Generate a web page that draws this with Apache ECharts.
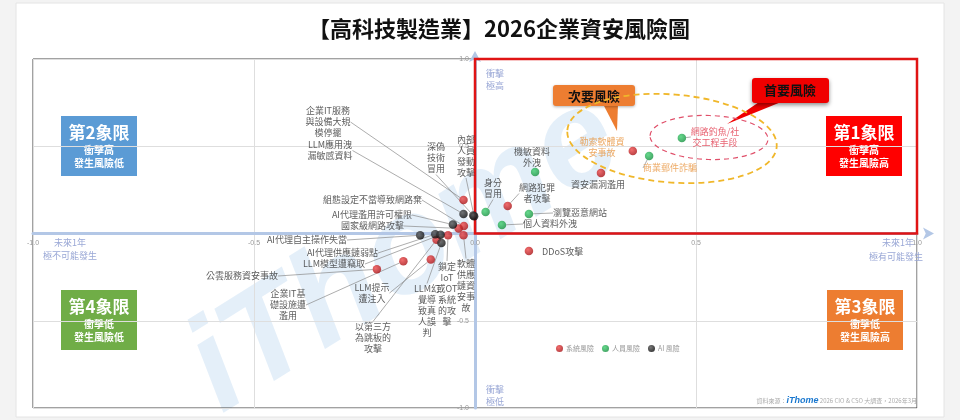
<!DOCTYPE html>
<html><head><meta charset="utf-8">
<script src="https://cdn.jsdelivr.net/npm/echarts@6/dist/echarts.min.js"></script>
<style>html,body{margin:0;padding:0;background:#f3f3f3}#c{width:960px;height:420px}</style>
</head><body><div id="c"></div>
<script>
// ---- data ----
const axisTicks = [-1, -0.5, 0, 0.5, 1];
const seriesNames = ['系統風險', '人員風險', 'AI 風險'];

const sysNames = ['勒索軟體資\n安事故', '資安漏洞濫用', '網路犯罪\n者攻擊', 'DDoS攻擊', '企業IT服務\n與設備大規\n模停擺',
  '組態設定不當導致網路棄', '國家級網路攻擊', '公雲服務資安事故', '企業IT基\n礎設施遭\n濫用', 'LLM提示\n遭注入',
  '以第三方\n為跳板的\n攻擊', '鎖定\nIoT\n或OT\n系統\n的攻\n擊', '軟體\n供應\n鏈資\n安事\n故'];
const sysX = [0.357, 0.285, 0.074, 0.122, -0.026, -0.025, -0.037, -0.222, -0.162, -0.100, -0.087, -0.061, -0.026];
const sysY = [0.473, 0.347, 0.158, -0.100, 0.192, 0.043, 0.029, -0.205, -0.159, -0.149, -0.036, -0.010, -0.010];

const humNames = ['網路釣魚/社\n交工程手段', '商業郵件詐騙', '機敏資料\n外洩', '瀏覽惡意網站', '個人資料外洩', '身分\n冒用'];
const humX = [0.468, 0.394, 0.136, 0.122, 0.061, 0.024];
const humY = [0.547, 0.444, 0.352, 0.112, 0.049, 0.123];

const aiNames = ['LLM應用洩\n漏敏感資料', '深偽\n技術\n冒用', '內部\n人員\n發動\n攻擊', 'AI代理濫用許可權限', 'AI代理自主操作失當',
  'AI代理供應鏈弱點', 'LLM模型遭竊取', 'LLM幻\n覺導\n致真\n人誤\n判'];
const aiX = [-0.026, -0.004, -0.002, -0.050, -0.124, -0.090, -0.078, -0.076];
const aiY = [0.112, 0.103, 0.099, 0.051, -0.010, -0.004, -0.007, -0.055];

// ---- label placement (pixels, style only) ----
const labelPos = {
  '企業IT服務\n與設備大規\n模停擺': [328, 122, 'center'],
  'LLM應用洩\n漏敏感資料': [330, 150.5, 'center'],
  '深偽\n技術\n冒用': [436, 158, 'center'],
  '內部\n人員\n發動\n攻擊': [466, 156, 'center'],
  '組態設定不當導致網路棄': [422, 200, 'right'],
  'AI代理濫用許可權限': [412, 215, 'right'],
  '國家級網路攻擊': [404, 226, 'right'],
  'AI代理自主操作失當': [347, 240, 'right'],
  'AI代理供應鏈弱點': [378, 253, 'right'],
  'LLM模型遭竊取': [365, 264, 'right'],
  '公雲服務資安事故': [278, 276, 'right'],
  '企業IT基\n礎設施遭\n濫用': [288, 305, 'center'],
  'LLM提示\n遭注入': [372, 293, 'center'],
  '以第三方\n為跳板的\n攻擊': [373, 338, 'center'],
  'LLM幻\n覺導\n致真\n人誤\n判': [427, 311, 'center'],
  '鎖定\nIoT\n或OT\n系統\n的攻\n擊': [447, 294, 'center'],
  '軟體\n供應\n鏈資\n安事\n故': [466, 286, 'center'],
  '身分\n冒用': [493, 188.5, 'center'],
  '網路犯罪\n者攻擊': [537, 193.5, 'center'],
  '機敏資料\n外洩': [532, 157.5, 'center'],
  '資安漏洞濫用': [598, 185, 'center'],
  '瀏覽惡意網站': [553, 213, 'left'],
  '個人資料外洩': [523, 224, 'left'],
  'DDoS攻擊': [542, 252, 'left'],
  '勒索軟體資\n安事故': [602, 147, 'center'],
  '商業郵件詐騙': [670, 168, 'center'],
  '網路釣魚/社\n交工程手段': [715, 137, 'center']
};
const labelColor = {'勒索軟體資\n安事故': '#e8953f', '商業郵件詐騙': '#e8953f', '網路釣魚/社\n交工程手段': '#e23b4e'};
const noLine = ['資安漏洞濫用', '機敏資料\n外洩', 'DDoS攻擊', '勒索軟體資\n安事故'];

const FONT = '"Noto Sans CJK TC","Noto Sans CJK SC",sans-serif';
const GRID = {left: 33, right: 43, top: 59, bottom: 12};
const W = 960, H = 420;
const gridW = W - GRID.left - GRID.right, gridH = H - GRID.top - GRID.bottom;

function mk(names, xs, ys) {
  return names.map((n, i) => {
    const it = {name: n, value: [xs[i], ys[i]]};
    if (labelColor[n]) it.label = {color: labelColor[n]};
    if (noLine.includes(n)) it.labelLine = {show: false};
    return it;
  });
}
function ball(c1, c2) {
  return new echarts.graphic.RadialGradient(0.38, 0.35, 0.75, [{offset: 0, color: c1}, {offset: 1, color: c2}]);
}
function layoutFor(names) {
  return function (p) {
    const pos = labelPos[names[p.dataIndex]];
    if (!pos) return {};
    return {x: pos[0], y: pos[1], align: pos[2], verticalAlign: 'middle'};
  };
}
function mkSeries(name, names, xs, ys, color, extra) {
  const s = {
    name: name, type: 'scatter', data: mk(names, xs, ys), symbolSize: 8.5,
    itemStyle: {color: color},
    label: {show: true, formatter: '{b}', fontSize: 9, lineHeight: 11, color: '#333', fontFamily: FONT},
    labelLine: {show: true, lineStyle: {color: '#8a8a8a', width: 0.7}},
    labelLayout: layoutFor(names),
    z: 5
  };
  return Object.assign(s, extra || {});
}

const chart = echarts.init(document.getElementById('c'), null, {renderer: 'canvas'});

function quad(x, y, color, t, l1, l2) {
  return {type: 'group', x: x, y: y, z: 10, children: [
    {type: 'rect', shape: {x: 0, y: 0, width: 76, height: 60}, style: {fill: color}},
    {type: 'text', x: 38, y: 17, style: {text: t, fill: '#fff', fontSize: 17, fontWeight: 'bold', fontFamily: FONT, align: 'center', verticalAlign: 'middle'}},
    {type: 'text', x: 38, y: 34, style: {text: l1, fill: '#fff', fontSize: 10, fontWeight: 'bold', fontFamily: FONT, align: 'center', verticalAlign: 'middle'}},
    {type: 'text', x: 38, y: 47, style: {text: l2, fill: '#fff', fontSize: 10, fontWeight: 'bold', fontFamily: FONT, align: 'center', verticalAlign: 'middle'}}
  ]};
}
const descStyle = {fill: '#9aa8d6', fontSize: 9, fontFamily: FONT, lineHeight: 12};

const option = {
  animation: false,
  backgroundColor: '#f3f3f3',
  title: {text: '【高科技製造業】2026企業資安風險圖', left: 303, top: 13,
    textStyle: {fontSize: 22, fontWeight: 'bold', color: '#111', fontFamily: FONT}},
  legend: {data: seriesNames, left: 551, top: 340, itemWidth: 7, itemHeight: 7, itemGap: 8, icon: 'circle',
    textStyle: {fontSize: 7, color: '#999', fontFamily: FONT, padding: [0, 0, 0, -2]}},
  grid: {left: GRID.left, right: GRID.right, top: GRID.top, bottom: GRID.bottom, show: true, borderColor: '#444', borderWidth: 1, backgroundColor: 'transparent'},
  xAxis: {type: 'value', min: axisTicks[0], max: axisTicks[axisTicks.length - 1], interval: 0.5,
    position: 'bottom', offset: -gridH / 2,
    axisLine: {onZero: false, lineStyle: {color: '#b3c7e6', width: 3}, symbol: ['none', 'arrow'], symbolSize: [9, 11], symbolOffset: [0, 17]},
    axisTick: {show: false},
    axisLabel: {fontSize: 7, color: '#999', margin: 6, formatter: v => v.toFixed(1)},
    splitLine: {lineStyle: {color: '#dedede'}}},
  yAxis: {type: 'value', min: axisTicks[0], max: axisTicks[axisTicks.length - 1], interval: 0.5,
    position: 'left', offset: -gridW / 2,
    axisLine: {onZero: false, lineStyle: {color: '#b3c7e6', width: 3}, symbol: ['none', 'arrow'], symbolSize: [9, 11], symbolOffset: [0, 8]},
    axisTick: {show: false},
    axisLabel: {fontSize: 7, color: '#999', margin: 6, formatter: v => v === 0 ? '' : v.toFixed(1)},
    splitLine: {lineStyle: {color: '#dedede'}}},
  series: [
    mkSeries(seriesNames[0], sysNames, sysX, sysY, ball('#f04848', '#a00c10'), {
      markArea: {silent: true, itemStyle: {color: 'rgba(0,0,0,0)', borderColor: '#e01414', borderWidth: 2.5},
        data: [[{coord: [0, 1]}, {coord: [1, 0]}]]}
    }),
    mkSeries(seriesNames[1], humNames, humX, humY, ball('#3fcf6f', '#11893a')),
    mkSeries(seriesNames[2], aiNames, aiX, aiY, ball('#555', '#000'))
  ],
  graphic: [
    {type: 'rect', z: -100, shape: {x: 16, y: 3, width: 928, height: 414}, style: {fill: '#fff', stroke: '#e4e4e4'}},
    {type: 'text', z: -50, x: 405, y: 255, rotation: 0.56,
      style: {text: 'iThome', fontSize: 135, fontWeight: 'bold', fontStyle: 'italic', fontFamily: 'Liberation Sans, Arial', fill: 'rgba(185,212,240,0.38)', align: 'center', verticalAlign: 'middle'}},
    quad(61, 116, '#5b9bd5', '第2象限', '衝擊高', '發生風險低'),
    quad(61, 290, '#70ad47', '第4象限', '衝擊低', '發生風險低'),
    quad(826, 116, '#ff0000', '第1象限', '衝擊高', '發生風險高'),
    quad(827, 290, '#ed7d31', '第3象限', '衝擊低', '發生風險高'),
    {type: 'ellipse', z: 4, x: 672, y: 138.5, rotation: -0.08, shape: {cx: 0, cy: 0, rx: 105, ry: 44},
      style: {fill: 'none', stroke: '#f0b72a', lineWidth: 1.8, lineDash: [6, 4]}},
    {type: 'ellipse', z: 4, x: 709, y: 137.5, rotation: -0.03, shape: {cx: 0, cy: 0, rx: 59, ry: 22},
      style: {fill: 'none', stroke: '#e0506a', lineWidth: 1.2, lineDash: [5, 4]}},
    {type: 'group', z: 10, children: [
      {type: 'polygon', shape: {points: [[603, 104], [618, 104], [617, 131]]}, style: {fill: '#ed7d31'}},
      {type: 'rect', shape: {x: 553, y: 85, width: 82, height: 21, r: 3}, style: {fill: '#ed7d31', shadowBlur: 3, shadowColor: 'rgba(0,0,0,0.3)', shadowOffsetY: 1}},
      {type: 'text', x: 594, y: 96, style: {text: '次要風險', fill: '#111', fontSize: 13, fontWeight: 'bold', fontFamily: FONT, align: 'center', verticalAlign: 'middle'}}
    ]},
    {type: 'group', z: 10, children: [
      {type: 'polygon', shape: {points: [[762, 100], [786, 100], [727, 124]]}, style: {fill: '#f00000'}},
      {type: 'rect', shape: {x: 752, y: 78, width: 77, height: 25, r: 3}, style: {fill: '#f00000', shadowBlur: 4, shadowColor: 'rgba(0,0,0,0.45)', shadowOffsetY: 2}},
      {type: 'text', x: 790, y: 90.5, style: {text: '首要風險', fill: '#111', fontSize: 13, fontWeight: 'bold', fontFamily: FONT, align: 'center', verticalAlign: 'middle'}}
    ]},
    {type: 'text', z: 6, x: 486, y: 68, style: Object.assign({text: '衝擊\n極高'}, descStyle)},
    {type: 'text', z: 6, x: 486, y: 384, style: Object.assign({text: '衝擊\n極低'}, descStyle)},
    {type: 'text', z: 6, x: 70, y: 243, style: Object.assign({text: '未來1年', align: 'center', verticalAlign: 'middle'}, descStyle)},
    {type: 'text', z: 6, x: 70, y: 256, style: Object.assign({text: '極不可能發生', align: 'center', verticalAlign: 'middle'}, descStyle)},
    {type: 'text', z: 6, x: 898, y: 243, style: Object.assign({text: '未來1年', align: 'center', verticalAlign: 'middle'}, descStyle)},
    {type: 'text', z: 6, x: 896, y: 257, style: Object.assign({text: '極有可能發生', align: 'center', verticalAlign: 'middle'}, descStyle)},
    {type: 'text', z: 6, x: 917, y: 401, style: {
      text: '{a|資料來源：}{b|iThome}{a| 2026 CIO & CSO 大調查，2026年3月}', align: 'right', verticalAlign: 'middle',
      rich: {a: {fontSize: 6, fill: '#aaa', fontFamily: FONT}, b: {fontSize: 9, fill: '#1a78cf', fontWeight: 'bold', fontStyle: 'italic', fontFamily: 'Liberation Sans, Arial'}}}}
  ]
};
chart.setOption(option);
</script>
</body></html>
